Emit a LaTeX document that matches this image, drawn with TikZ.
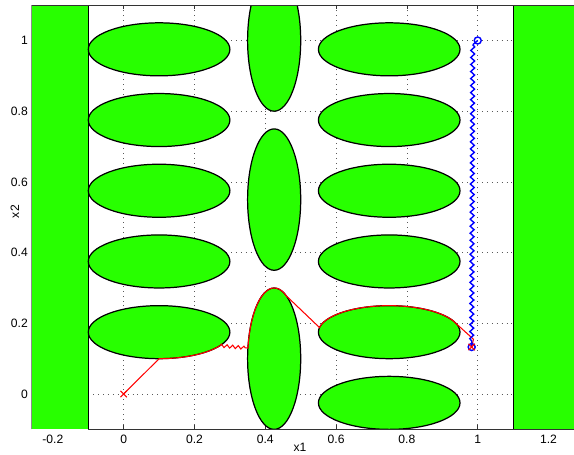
\documentclass[tikz,border=0pt]{standalone}
\usepackage{fontspec}
\setmainfont{Liberation Sans}
\usepackage{tikz}
\usetikzlibrary{calc,decorations.pathmorphing,shapes.misc}
\usepackage{xcolor}
\definecolor{obstgreen}{RGB}{40,255,0}

\begin{document}
\begin{tikzpicture}[x=7.08cm,y=7.07cm,
    font=\fontsize{6.9}{8}\selectfont,
    obst/.style={fill=obstgreen,draw=black,line width=0.7pt},
    gridline/.style={black!65,line width=0.45pt,dash pattern=on 0.5pt off 2.3pt},
    tickline/.style={black!80,line width=0.45pt},
    trajr/.style={red,line width=0.6pt},
    trajb/.style={blue,line width=0.8pt},
    ticklbl/.style={inner sep=0pt}]
    \useasboundingbox[fill=white] (-0.3494,-0.1697) rectangle (1.272,1.1146);
    % grid and ticks
    \foreach \g in {0,0.2,0.4,0.6,0.8,1}{
        \draw[gridline] (\g,-0.1) -- (\g,1.1);
        \draw[gridline] (-0.1,\g) -- (1.1,\g);
        \draw[tickline] (\g,-0.1) -- ++(0,0.011);
        \draw[tickline] (\g,1.1) -- ++(0,-0.011);
    }
    % walls
    \fill[obstgreen] (-0.26,-0.1) rectangle (-0.1,1.1);
    \fill[obstgreen] (1.1,-0.1) rectangle (1.3,1.1);
    \draw[line width=0.7pt] (-0.1,-0.1) -- (-0.1,1.1);
    \draw[line width=0.7pt] (1.1,-0.1) -- (1.1,1.1);
    % obstacles
    \begin{scope}
        \clip (-0.26,-0.1) rectangle (1.3,1.1);
        \foreach \y in {0.975,0.775,0.575,0.375,0.175}{
            \draw[obst] (0.1,\y) ellipse[x radius=0.2,y radius=0.075];
            \draw[obst] (0.75,\y) ellipse[x radius=0.2,y radius=0.075];
        }
        \draw[obst] (0.75,-0.025) ellipse[x radius=0.2,y radius=0.075];
        \foreach \y in {1,0.55,0.1}
            \draw[obst] (0.425,\y) ellipse[x radius=0.075,y radius=0.2];
    \end{scope}
    % axes box
    \draw[black!80,line width=0.5pt] (-0.1,-0.1) -- (1.3,-0.1);
    \draw[black!80,line width=0.5pt] (-0.26,1.1) -- (1.3,1.1);
    \draw[black!45,line width=0.5pt] (-0.26,-0.1) -- (-0.26,1.1);
    % tick labels
    \foreach \v [count=\i] in {-0.2,0,0.2,0.4,0.6,0.8,1,1.2}
        \node[ticklbl] (xtick\i) at (\v,-0.129) {\v};
    \foreach \v [count=\i] in {0,0.2,0.4,0.6,0.8,1}
        \node[ticklbl,anchor=east] (ytick\i) at (-0.27,\v) {\v};
    \node[ticklbl] (xlabel) at (0.498,-0.151) {x1};
    \node[ticklbl,rotate=90] (ylabel) at (-0.307,0.516) {x2};
    % trajectories
    \coordinate (rstart) at (0,0);
    \coordinate (rend) at (0.983,0.133);
    \coordinate (bstart) at (1,1);
    \coordinate (zzout) at (0.351,0.13);
    \draw[trajr] (rstart) -- (0.1,0.1)
        arc[start angle=270,end angle=329.3,x radius=0.2,y radius=0.075] coordinate (zzin);
    \draw[trajr,decorate,decoration={zigzag,segment length=3.2pt,amplitude=0.9pt}] (zzin) -- (zzout);
    \draw[trajr] (zzout) arc[start angle=171.4,end angle=62,x radius=0.075,y radius=0.2]
        -- ($(0.75,0.175)+(170:0.2 and 0.075)$)
        arc[start angle=170,end angle=18,x radius=0.2,y radius=0.075]
        -- (0.988,0.155) -- (rend);
    \coordinate (bwig1) at (0.986,0.988);
    \coordinate (bwig2) at (0.983,0.142);
    \draw[trajb] (bstart) -- (bwig1);
    \draw[trajb,decorate,decoration={snake,segment length=4pt,amplitude=1.1pt}] (bwig1) -- (bwig2);
    \draw[trajb] (bwig2) -- (rend);
    % markers
    \node[draw=blue,circle,line width=0.8pt,minimum size=4pt,inner sep=0pt] (bstartmark) at (bstart) {};
    \node[draw=blue,circle,line width=0.8pt,minimum size=4pt,inner sep=0pt] (bendmark) at (rend) {};
    \node[draw=red,cross out,line width=0.6pt,minimum size=3pt,inner sep=0pt] (rstartmark) at (rstart) {};
    \node[draw=red,cross out,line width=0.6pt,minimum size=3pt,inner sep=0pt] (rendmark) at (rend) {};
\end{tikzpicture}
\end{document}
